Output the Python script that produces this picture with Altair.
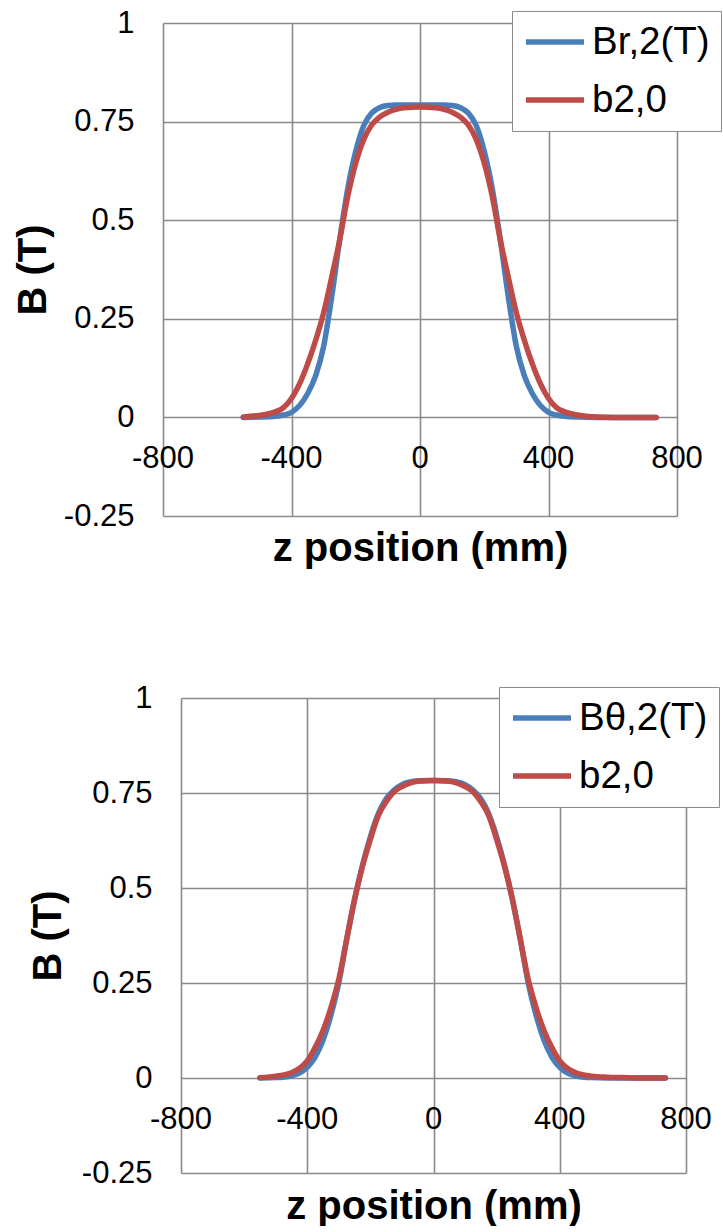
import altair as alt
import pandas as pd

# z positions (mm) shared by all series
Z = [-550, -500, -450, -425, -400, -375, -350, -325, -300, -275, -250, -225, -200,
     -175, -150, -125, -100, -75, -50, 0, 50, 75, 100, 125, 150, 175, 200, 225,
     250, 275, 300, 325, 350, 375, 400, 425, 450, 500, 550, 600, 650, 700, 735]

# top panel
TOP_BR = [0.000, 0.001, 0.003, 0.006, 0.013, 0.030, 0.060, 0.105, 0.180, 0.305, 0.450, 0.580, 0.675,
          0.740, 0.772, 0.786, 0.791, 0.792, 0.792, 0.792, 0.792, 0.792, 0.791, 0.786, 0.772, 0.740,
          0.675, 0.580, 0.450, 0.305, 0.180, 0.105, 0.060, 0.030, 0.013, 0.006, 0.003, 0.001, 0.000,
          0.000, 0.000, 0.000, 0.000]
TOP_B20 = [0.001, 0.005, 0.014, 0.025, 0.048, 0.085, 0.135, 0.195, 0.265, 0.355, 0.450, 0.560, 0.645,
           0.705, 0.742, 0.762, 0.774, 0.781, 0.785, 0.787, 0.785, 0.781, 0.774, 0.762, 0.742, 0.705,
           0.645, 0.560, 0.450, 0.355, 0.265, 0.195, 0.135, 0.085, 0.048, 0.025, 0.014, 0.005, 0.001,
           0.000, 0.000, 0.000, 0.000]

# bottom panel
BOT_BT = [0.000, 0.001, 0.006, 0.013, 0.028, 0.055, 0.100, 0.165, 0.250, 0.365, 0.470, 0.560, 0.635,
          0.695, 0.735, 0.758, 0.772, 0.779, 0.782, 0.783, 0.782, 0.779, 0.772, 0.758, 0.735, 0.695,
          0.635, 0.560, 0.470, 0.365, 0.250, 0.165, 0.100, 0.055, 0.028, 0.013, 0.006, 0.001, 0.000,
          0.000, 0.000, 0.000, 0.000]
BOT_B20 = [0.001, 0.005, 0.014, 0.025, 0.045, 0.080, 0.125, 0.185, 0.260, 0.365, 0.470, 0.557, 0.628,
           0.690, 0.727, 0.753, 0.767, 0.776, 0.781, 0.783, 0.781, 0.776, 0.767, 0.753, 0.727, 0.690,
           0.628, 0.557, 0.470, 0.365, 0.260, 0.185, 0.125, 0.080, 0.045, 0.025, 0.014, 0.005, 0.002,
           0.001, 0.000, 0.000, 0.000]

X_TICKS = [-800, -400, 0, 400, 800]
X_TICK_LABELS = ["-800", "-400", "0", "400", "800"]
Y_TICKS = [-0.25, 0, 0.25, 0.5, 0.75, 1]

BLUE = "#4A7EBB"
RED = "#BE4B48"
GRID = "#8A8A8A"
FONT = "Liberation Sans"


def panel(first_name, first_vals, second_vals, width, height,
          legend_x, legend_y, ytitle_pad, xtitle_pad):
    rows = []
    for z, v in zip(Z, first_vals):
        rows.append({"z": z, "B": v, "series": first_name})
    for z, v in zip(Z, second_vals):
        rows.append({"z": z, "B": v, "series": "b2,0"})
    df = pd.DataFrame(rows)

    x = alt.X("z:Q", scale=alt.Scale(domain=[-800, 800], nice=False, zero=False),
              axis=alt.Axis(values=X_TICKS, grid=True, labels=False, ticks=False, tickSize=0,
                            domain=False, title="z position (mm)", titleFontSize=40,
                            titleFontWeight="bold", titlePadding=xtitle_pad,
                            gridColor=GRID, gridWidth=1.6, gridOpacity=1))
    y = alt.Y("B:Q", scale=alt.Scale(domain=[-0.25, 1], nice=False, zero=False),
              axis=alt.Axis(values=Y_TICKS, grid=True, ticks=False, tickSize=0, domain=False,
                            labelExpr="'' + datum.value", labelFontSize=31, labelPadding=29,
                            title="B (T)", titleFontSize=40, titleFontWeight="bold",
                            titlePadding=ytitle_pad, gridColor=GRID, gridWidth=1.6,
                            gridOpacity=1))

    lines = alt.Chart(df).mark_line(strokeWidth=5.5, interpolate="monotone",
                                    strokeCap="round").encode(
        x=x, y=y,
        color=alt.Color("series:N",
                        scale=alt.Scale(domain=[first_name, "b2,0"], range=[BLUE, RED]),
                        legend=alt.Legend(title=None, orient="none", legendX=legend_x,
                                          legendY=legend_y, direction="vertical",
                                          symbolType="stroke", symbolSize=3364,
                                          symbolStrokeWidth=5.5, labelFontSize=38.5,
                                          labelFont=FONT, labelColor="black",
                                          strokeColor=GRID, fillColor="white",
                                          padding=11, clipHeight=40, rowPadding=18,
                                          labelOffset=5, labelLimit=400)),
    )

    ticks_df = pd.DataFrame({"z": X_TICKS, "lbl": X_TICK_LABELS, "B": [0] * len(X_TICKS)})
    labels = alt.Chart(ticks_df).mark_text(fontSize=31, dy=42, color="black",
                                           font=FONT).encode(x=x, y=y, text="lbl:N")

    return alt.layer(lines, labels).properties(width=width, height=height)


def spacer(w):
    return alt.Chart(pd.DataFrame({"a": [0]})).mark_point(opacity=0).properties(width=w, height=1)


top = panel("Br,2(T)", TOP_BR, TOP_B20, 514, 493, 512, -12, 10, 12)
bottom = panel("B\u03b8,2(T)", BOT_BT, BOT_B20, 505, 475, 499, -11, 13, 13)

chart = alt.vconcat(
    alt.hconcat(spacer(13), top, spacing=0),
    alt.hconcat(spacer(28), bottom, spacing=0),
    spacing=114,
).resolve_scale(color="independent").resolve_legend(color="independent").properties(
    padding={"left": 0, "top": 7, "right": 0, "bottom": 0},
    background="white",
).configure(font=FONT).configure_view(stroke=None).configure_axis(
    labelColor="black", titleColor="black", labelFont=FONT, titleFont=FONT
)

chart.save("out.html", embed_options={"renderer": "svg", "actions": False})
